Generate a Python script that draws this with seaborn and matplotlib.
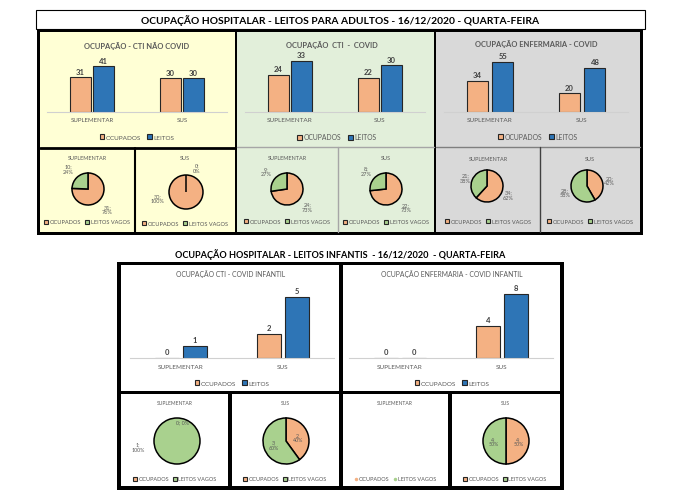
import numpy as np
import pandas as pd
import matplotlib
matplotlib.use("Agg")
import matplotlib.pyplot as plt
from matplotlib.patches import Rectangle, Patch
from matplotlib.lines import Line2D
import seaborn as sns

sns.set_style("white")
plt.rcParams['font.family'] = ['Lato', 'DejaVu Sans']

# ---------------- DATA ----------------
categories = ["SUPLEMENTAR", "SUS"]
series_names = ["OCUPADOS", "LEITOS"]

cti_nao_covid_ocupados = [31, 30]
cti_nao_covid_leitos = [41, 30]
cti_covid_ocupados = [24, 22]
cti_covid_leitos = [33, 30]
enf_covid_ocupados = [34, 20]
enf_covid_leitos = [55, 48]
cti_inf_ocupados = [0, 2]
cti_inf_leitos = [1, 5]
enf_inf_ocupados = [0, 4]
enf_inf_leitos = [0, 8]

pie_names = ["OCUPADOS", "LEITOS VAGOS"]
cti_nao_covid_vagos = [10, 0]
cti_covid_vagos = [9, 8]
enf_covid_vagos = [21, 28]
cti_inf_vagos = [1, 3]
enf_inf_vagos = [0, 4]

title_adult = "OCUPAÇÃO HOSPITALAR - LEITOS PARA ADULTOS - 16/12/2020 - QUARTA-FEIRA"
title_inf = "OCUPAÇÃO HOSPITALAR - LEITOS INFANTIS  - 16/12/2020  - QUARTA-FEIRA"

# ---------------- STYLE ----------------
ORANGE = "#F4B183"
BLUE = "#2E75B6"
GREEN = "#A9D18E"
GRAYTXT = "#595959"

W, H = 682, 502
fig = plt.figure(figsize=(W / 100, H / 100), dpi=100)
fig.patch.set_facecolor("white")


def fax(x0, y0, x1, y1):
    return fig.add_axes([x0 / W, 1 - y1 / H, (x1 - x0) / W, (y1 - y0) / H])


bg = fax(0, 0, W, H)
bg.set_xlim(0, W)
bg.set_ylim(H, 0)
bg.axis("off")


def rect(x0, y0, x1, y1, fc, ec="none", lw=0, z=0):
    bg.add_patch(Rectangle((x0, y0), x1 - x0, y1 - y0, facecolor=fc,
                           edgecolor=ec, linewidth=lw, zorder=z))


# ---- adult frame ----
rect(36, 11, 645, 30, "white", "black", 0.8)
bg.text(340, 20.5, title_adult, ha="center", va="center", fontsize=7.4,
        fontweight="bold", color="black")
rect(37, 30, 643, 236, "black")
rect(40, 33, 235, 233, "#FFFFD5")
rect(237, 33, 434, 233, "#E2EFDA")
rect(436, 33, 640, 233, "#D9D9D9")
bg.plot([40, 235], [148.5, 148.5], color="black", lw=2)
bg.plot([135, 135], [148.5, 233], color="black", lw=1.5)
bg.plot([237, 434], [147.5, 147.5], color="#A6A6A6", lw=1)
bg.plot([338, 338], [147.5, 233], color="#A6A6A6", lw=1)
bg.plot([436, 640], [147.5, 147.5], color="#7F7F7F", lw=1)
bg.plot([540, 540], [147.5, 233], color="#404040", lw=1)

# ---- infant frame ----
bg.text(340, 255, title_inf, ha="center", va="center", fontsize=6.6,
        fontweight="bold", color="black")
rect(117, 263, 564, 491, "black")
rect(121, 266, 339, 392, "white")
rect(343, 266, 560, 392, "white")
rect(121, 395, 228, 487, "white")
rect(232, 395, 339, 487, "white")
rect(343, 395, 448, 487, "white")
rect(452, 395, 560, 487, "white")


def bar_chart(ocup, leitos, c0, c1, base, height, ymax, title, title_xy,
              legend_xy, width, gap, title_fs, title_fw, cat_fs, leg_fs):
    s = c1 - c0
    ax = fax(c0 - 0.5 * s, base - height, c1 + 0.5 * s, base)
    df = pd.DataFrame({
        "cat": categories * 2,
        "serie": [series_names[0]] * 2 + [series_names[1]] * 2,
        "val": list(ocup) + list(leitos),
    })
    sns.barplot(data=df, x="cat", y="val", hue="serie", hue_order=series_names,
                order=categories, palette=[ORANGE, BLUE], width=width, gap=gap,
                edgecolor="#262626", linewidth=0.8, saturation=1, ax=ax,
                legend=True)
    ax.patch.set_alpha(0)
    ax.set_xlim(-0.5, 1.5)
    ax.set_ylim(0, ymax)
    for sp in ["top", "right", "left"]:
        ax.spines[sp].set_visible(False)
    ax.spines["bottom"].set_color("#D0D0D0")
    ax.spines["bottom"].set_linewidth(0.8)
    ax.set_yticks([])
    ax.set_xlabel("")
    ax.set_ylabel("")
    ax.tick_params(axis="x", length=0, pad=4, labelsize=cat_fs, labelcolor=GRAYTXT)
    for cont in ax.containers:
        ax.bar_label(cont, fmt="%d", padding=2, fontsize=5.5, color="#404040",
                     fontweight="bold")
    handles, labels = ax.get_legend_handles_labels()
    ax.get_legend().remove()
    fig.legend(handles, labels, loc="center",
               bbox_to_anchor=(legend_xy[0] / W, 1 - legend_xy[1] / H),
               ncol=2, frameon=False, fontsize=leg_fs, labelcolor=GRAYTXT,
               handlelength=0.7, handleheight=0.7, handletextpad=0.25,
               columnspacing=1.0)
    bg.text(title_xy[0], title_xy[1], title, ha="center", va="center",
            fontsize=title_fs, fontweight=title_fw, color=GRAYTXT)
    return ax


bar_chart(cti_nao_covid_ocupados, cti_nao_covid_leitos, 92, 182, 112.5, 60, 54.5,
          "OCUPAÇÃO - CTI NÃO COVID", (137, 46), (137, 138), 0.52, 0.1,
          5.4, "bold", 4.4, 4.6)
bar_chart(cti_covid_ocupados, cti_covid_leitos, 290, 380, 112.5, 60, 39,
          "OCUPAÇÃO  CTI  -  COVID", (332, 45), (337, 138), 0.52, 0.1,
          5.4, "bold", 4.6, 4.9)
bar_chart(enf_covid_ocupados, enf_covid_leitos, 490, 582, 112.5, 60, 66.5,
          "OCUPAÇÃO ENFERMARIA - COVID", (536, 44), (538, 137), 0.56, 0.18,
          5.4, "bold", 4.6, 4.9)
bar_chart(cti_inf_ocupados, cti_inf_leitos, 181, 283, 359, 75, 6.15,
          "OCUPAÇÃO CTI - COVID INFANTIL", (231, 274), (232, 384), 0.55, 0.14,
          4.9, "normal", 4.6, 4.6)
bar_chart(enf_inf_ocupados, enf_inf_leitos, 400, 502, 359, 75, 9.4,
          "OCUPAÇÃO ENFERMARIA - COVID INFANTIL", (452, 274), (452, 384), 0.55, 0.14,
          4.9, "normal", 4.6, 4.6)


def pie_chart(ocup, vagos, cx, cy, r, title, panel_cx, title_y, legend_y,
              labeldist=1.4, fs=4.0, title_fs=4.0, leg_fs=4.1,
              zero_pos=(0.6, 1.5), zero_sep="\n", full_pos=(-1.65, -0.3)):
    L = 2.6
    side = 2 * r * L
    ax = fax(cx - side / 2, cy - side / 2, cx + side / 2, cy + side / 2)
    ax.set_xlim(-L, L)
    ax.set_ylim(-L, L)
    ax.set_aspect("equal")
    ax.axis("off")
    vals = [ocup, vagos]
    total = sum(vals)
    if total > 0:
        labels = []
        for v in vals:
            sep = zero_sep if v == 0 else "\n"
            labels.append(f"{v};{sep}{round(100 * v / total)}%")
        wedges, texts = ax.pie(vals, labels=labels, colors=[ORANGE, GREEN],
                               startangle=90, counterclock=False,
                               labeldistance=labeldist,
                               wedgeprops=dict(edgecolor="black", linewidth=1.1),
                               textprops=dict(fontsize=fs, color=GRAYTXT,
                                              linespacing=1.1))
        ax.set_xlim(-L, L)
        ax.set_ylim(-L, L)
        for v, t in zip(vals, texts):
            t.set_ha("center")
            if v == 0:
                t.set_position(zero_pos)
            elif v == total:
                t.set_position(full_pos)
        handles = [Patch(facecolor=ORANGE, edgecolor="#262626", linewidth=0.8),
                   Patch(facecolor=GREEN, edgecolor="#262626", linewidth=0.8)]
        hl, hh = 0.7, 0.7
    else:
        handles = [Line2D([], [], marker="o", color="none", markerfacecolor=ORANGE,
                          markeredgecolor=ORANGE, markersize=1.5),
                   Line2D([], [], marker="o", color="none", markerfacecolor=GREEN,
                          markeredgecolor=GREEN, markersize=1.5)]
        hl, hh = 0.6, 0.6
    fig.legend(handles, pie_names, loc="center",
               bbox_to_anchor=(panel_cx / W, 1 - legend_y / H), ncol=2,
               frameon=False, fontsize=leg_fs, labelcolor=GRAYTXT,
               handlelength=hl, handleheight=hh, handletextpad=0.25,
               columnspacing=0.7)
    bg.text(panel_cx, title_y, title, ha="center", va="center", fontsize=title_fs,
            color=GRAYTXT)


# adult pies
pie_chart(cti_nao_covid_ocupados[0], cti_nao_covid_vagos[0], 88, 190, 16,
          categories[0], 87, 159, 223, labeldist=1.75)
pie_chart(cti_nao_covid_ocupados[1], cti_nao_covid_vagos[1], 186, 193, 17,
          categories[1], 185, 159, 224, labeldist=1.6,
          zero_pos=(0.65, 1.45), full_pos=(-1.65, -0.35))
pie_chart(cti_covid_ocupados[0], cti_covid_vagos[0], 287, 190, 16,
          categories[0], 287, 159, 222, labeldist=1.7)
pie_chart(cti_covid_ocupados[1], cti_covid_vagos[1], 386, 190, 16,
          categories[1], 386, 159, 223, labeldist=1.7)
pie_chart(enf_covid_ocupados[0], enf_covid_vagos[0], 487, 187, 16,
          categories[0], 488, 160, 222, labeldist=1.45)
pie_chart(enf_covid_ocupados[1], enf_covid_vagos[1], 587, 187, 16,
          categories[1], 590, 160, 222, labeldist=1.45)

# infant pies
pie_chart(cti_inf_ocupados[0], cti_inf_vagos[0], 177, 442, 23,
          categories[0], 175, 404, 480, labeldist=1.35, fs=3.8,
          title_fs=3.6, leg_fs=4.0, zero_pos=(0.25, 0.82), zero_sep=" ",
          full_pos=(-1.7, -0.25))
pie_chart(cti_inf_ocupados[1], cti_inf_vagos[1], 286, 442, 23,
          categories[1], 285, 404, 480, labeldist=0.55, fs=3.8,
          title_fs=3.6, leg_fs=4.0)
pie_chart(enf_inf_ocupados[0], enf_inf_vagos[0], 396, 442, 23,
          categories[0], 395, 404, 480, title_fs=3.6, leg_fs=4.0)
pie_chart(enf_inf_ocupados[1], enf_inf_vagos[1], 506, 442, 23,
          categories[1], 505, 404, 480, labeldist=0.55, fs=3.8,
          title_fs=3.6, leg_fs=4.0)

fig.savefig("out.png", dpi=100)
